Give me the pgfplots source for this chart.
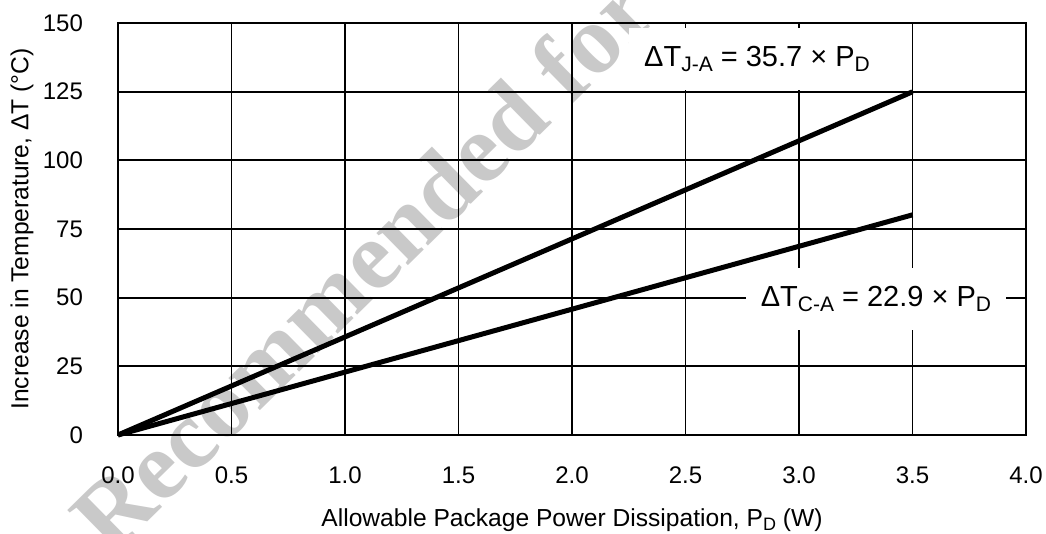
\documentclass[border=0pt]{standalone}
\usepackage{pgfplots}
\pgfplotsset{compat=1.18}
\usepackage{fontspec}
\setmainfont{Liberation Sans}
\newfontfamily\wmfont{Liberation Serif}
\newcommand{\sub}[1]{\raisebox{-0.35ex}{\fontsize{9}{9}\selectfont #1}}
\newcommand{\subb}[1]{\raisebox{-0.35ex}{\fontsize{10.5}{10.5}\selectfont #1}}
\begin{document}
\begin{tikzpicture}
\node[rotate=44.5, text=black!21, font={\wmfont\bfseries\fontsize{49}{49}\selectfont}, inner sep=0pt] at (122pt,86pt) {Recommended for};
\begin{axis}[
  at={(0pt,0pt)}, anchor=south west,
  scale only axis,
  width=454pt, height=206pt,
  xmin=0, xmax=4, ymin=0, ymax=150,
  xtick={0,0.5,...,4}, ytick={0,25,...,150},
  xticklabels={0.0,0.5,1.0,1.5,2.0,2.5,3.0,3.5,4.0},
  major tick length=0pt,
  grid=major,
  major grid style={black, line width=0.9pt},
  axis line style={black, line width=1.2pt},
  tick label style={font=\fontsize{12}{12}\selectfont},
  /pgf/number format/assume math mode=true,
  xticklabel style={yshift=-12.5pt},
  yticklabel style={xshift=-14pt},
  label style={font=\fontsize{12.3}{12.3}\selectfont},
  xlabel={Allowable Package Power Dissipation, P\sub{D} (W)},
  ylabel={Increase in Temperature, ΔT (°C)},
  xlabel style={at={(axis description cs:0.5,-0.2063)}, anchor=center},
  ylabel style={at={(axis description cs:-0.1057,0.5)}, anchor=center},
  clip=false,
]
\addplot[black, line width=2.5pt, line join=round] coordinates {
  (0,0) (0.5,17.85) (1.0,35.7) (1.5,53.55) (2.0,71.4) (2.5,89.25) (3.0,107.1) (3.5,124.95)};
\addplot[black, line width=2.5pt, line join=round] coordinates {
  (0,0) (0.5,11.45) (1.0,22.9) (1.5,34.35) (2.0,45.8) (2.5,57.25) (3.0,68.7) (3.5,80.15)};
\node[fill=white, inner xsep=7.5pt, minimum height=31pt, font=\fontsize{14.5}{14.5}\selectfont] at (axis cs:2.815,136.9) {ΔT\subb{J-A} = 35.7 × P\subb{D}};
\node[fill=white, inner xsep=7.5pt, minimum height=31pt, font=\fontsize{14.5}{14.5}\selectfont] at (axis cs:3.339,49.5) {ΔT\subb{C-A} = 22.9 × P\subb{D}};
\end{axis}
\pgfresetboundingbox
\path (-59pt,-49.5pt) rectangle (464pt,217.5pt);
\end{tikzpicture}
\end{document}
